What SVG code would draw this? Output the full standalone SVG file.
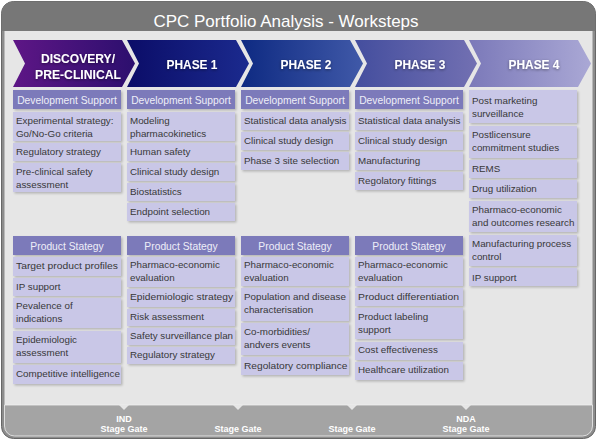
<svg xmlns="http://www.w3.org/2000/svg" width="605" height="442" viewBox="0 0 605 442">
<defs>
<linearGradient id="g0" x1="0" y1="0" x2="1" y2="0"><stop offset="0" stop-color="#5e1686"/><stop offset="1" stop-color="#2c0f6e"/></linearGradient>
<linearGradient id="g1" x1="0" y1="0" x2="1" y2="0"><stop offset="0" stop-color="#0b0d68"/><stop offset="1" stop-color="#1b2a8e"/></linearGradient>
<linearGradient id="g2" x1="0" y1="0" x2="1" y2="0"><stop offset="0" stop-color="#0e2a82"/><stop offset="1" stop-color="#4059a8"/></linearGradient>
<linearGradient id="g3" x1="0" y1="0" x2="1" y2="0"><stop offset="0" stop-color="#444e9e"/><stop offset="1" stop-color="#7270b2"/></linearGradient>
<linearGradient id="g4" x1="0" y1="0" x2="1" y2="0"><stop offset="0" stop-color="#7b79b9"/><stop offset="1" stop-color="#aaa8d5"/></linearGradient>
<filter id="sh" x="-10%" y="-20%" width="125%" height="160%"><feDropShadow dx="1.5" dy="1.5" stdDeviation="1.2" flood-color="#000" flood-opacity="0.22"/></filter>
<filter id="ts" x="-20%" y="-50%" width="140%" height="200%"><feDropShadow dx="0" dy="1" stdDeviation="1.5" flood-color="#000" flood-opacity="0.45"/></filter>
<style>
.it{fill:#c9c7e7;filter:url(#sh)}
.hd{fill:#7c7aba;filter:url(#sh)}
.t{font-family:"Liberation Sans",Arial,sans-serif;font-size:9.8px;fill:#383838}
.ht{font-family:"Liberation Sans",Arial,sans-serif;font-size:10.3px;fill:#eeeef8;text-anchor:middle}
.ph{font-family:"Liberation Sans",Arial,sans-serif;font-size:13px;font-weight:bold;fill:#ffffff;text-anchor:middle;filter:url(#ts)}
.gt{font-family:"Liberation Sans",Arial,sans-serif;font-size:9px;font-weight:bold;fill:#ffffff;text-anchor:middle}
</style>
</defs>

<g id="frame">
<rect x="1.5" y="1.5" width="594" height="437" rx="12" fill="#8c8c8c" stroke="#676767" stroke-width="1"/>
<path d="M1.5,31 V13.5 A12,12 0 0 1 13.5,1.5 H583.5 A12,12 0 0 1 595.5,13.5 V31 Z" fill="#777777"/>
<rect x="4.5" y="31" width="588" height="374" fill="#e6e6e6"/>
<path d="M4.5,405 H592.5 V426 A10,10 0 0 1 582.5,436 H14.5 A10,10 0 0 1 4.5,426 Z" fill="#a4a4a4" stroke="#f0f0f0" stroke-width="0.8"/>
<text x="286" y="27" font-family="'Liberation Sans',Arial,sans-serif" font-size="17" fill="#ffffff" text-anchor="middle">CPC Portfolio Analysis - Worksteps</text>
</g>

<g id="gates">
<path d="M119,405 L124,410 L129,405 Z" fill="#e6e6e6"/>
<path d="M233,405 L238,410 L243,405 Z" fill="#e6e6e6"/>
<path d="M347,405 L352,410 L357,405 Z" fill="#e6e6e6"/>
<path d="M461,405 L466,410 L471,405 Z" fill="#e6e6e6"/>
<text class="gt" x="124" y="422">IND</text><text class="gt" x="124" y="432">Stage Gate</text>
<text class="gt" x="238" y="432">Stage Gate</text>
<text class="gt" x="352" y="432">Stage Gate</text>
<text class="gt" x="466" y="422">NDA</text><text class="gt" x="466" y="432">Stage Gate</text>
</g>

<g id="phases">
<g id="phase-discovery">
<path d="M13,40 H122 L135,63.5 L122,87 H13 L25,63.5 Z" fill="url(#g0)"/>
<text class="ph" x="78" y="62.5" textLength="74" lengthAdjust="spacingAndGlyphs">DISCOVERY/</text>
<text class="ph" x="78" y="78.5" textLength="86" lengthAdjust="spacingAndGlyphs">PRE-CLINICAL</text>
</g>
<g id="phase-1">
<path d="M127,40 H236 L249,63.5 L236,87 H127 L139,63.5 Z" fill="url(#g1)"/>
<text class="ph" x="192" y="69" textLength="51" lengthAdjust="spacingAndGlyphs">PHASE 1</text>
</g>
<g id="phase-2">
<path d="M241,40 H350 L363,63.5 L350,87 H241 L253,63.5 Z" fill="url(#g2)"/>
<text class="ph" x="306" y="69" textLength="51" lengthAdjust="spacingAndGlyphs">PHASE 2</text>
</g>
<g id="phase-3">
<path d="M355,40 H464 L477,63.5 L464,87 H355 L367,63.5 Z" fill="url(#g3)"/>
<text class="ph" x="420" y="69" textLength="51" lengthAdjust="spacingAndGlyphs">PHASE 3</text>
</g>
<g id="phase-4">
<path d="M469,40 H578 L591,63.5 L578,87 H469 L481,63.5 Z" fill="url(#g4)"/>
<text class="ph" x="534" y="69" textLength="51" lengthAdjust="spacingAndGlyphs">PHASE 4</text>
</g>
</g>

<g id="col-discovery">
<g id="d-ds"><rect class="hd" x="13" y="90" width="108" height="19"/><text class="ht" x="67" y="103.5">Development Support</text></g>
<g id="d-1"><rect class="it" x="13" y="112" width="108" height="29"/><text class="t" x="16" y="124">Experimental strategy:</text><text class="t" x="16" y="137">Go/No-Go criteria</text></g>
<g id="d-2"><rect class="it" x="13" y="143" width="108" height="18"/><text class="t" x="16" y="155">Regulatory strategy</text></g>
<g id="d-3"><rect class="it" x="13" y="163" width="108" height="29"/><text class="t" x="16" y="175">Pre-clinical safety</text><text class="t" x="16" y="188">assessment</text></g>
<g id="d-ps"><rect class="hd" x="13" y="236" width="108" height="19"/><text class="ht" x="67" y="249.5">Product Stategy</text></g>
<g id="d-4"><rect class="it" x="13" y="257" width="108" height="19"/><text class="t" x="16" y="269" textLength="102" lengthAdjust="spacingAndGlyphs">Target product profiles</text></g>
<g id="d-5"><rect class="it" x="13" y="278" width="108" height="18"/><text class="t" x="16" y="290">IP support</text></g>
<g id="d-6"><rect class="it" x="13" y="298" width="108" height="30"/><text class="t" x="16" y="309">Pevalence of</text><text class="t" x="16" y="322">indications</text></g>
<g id="d-7"><rect class="it" x="13" y="331" width="108" height="32"/><text class="t" x="16" y="343">Epidemiologic</text><text class="t" x="16" y="356">assessment</text></g>
<g id="d-8"><rect class="it" x="13" y="365" width="108" height="19"/><text class="t" x="16" y="377" textLength="104" lengthAdjust="spacingAndGlyphs">Competitive intelligence</text></g>
</g>

<g id="col-phase1">
<g id="p1-ds"><rect class="hd" x="127" y="90" width="108" height="19"/><text class="ht" x="181" y="103.5">Development Support</text></g>
<g id="p1-1"><rect class="it" x="127" y="112" width="108" height="29"/><text class="t" x="130" y="124">Modeling</text><text class="t" x="130" y="137">pharmacokinetics</text></g>
<g id="p1-2"><rect class="it" x="127" y="143" width="108" height="18"/><text class="t" x="130" y="155">Human safety</text></g>
<g id="p1-3"><rect class="it" x="127" y="163" width="108" height="18"/><text class="t" x="130" y="175">Clinical study design</text></g>
<g id="p1-4"><rect class="it" x="127" y="183" width="108" height="18"/><text class="t" x="130" y="195">Biostatistics</text></g>
<g id="p1-5"><rect class="it" x="127" y="203" width="108" height="18"/><text class="t" x="130" y="215">Endpoint selection</text></g>
<g id="p1-ps"><rect class="hd" x="127" y="236" width="108" height="19"/><text class="ht" x="181" y="249.5">Product Stategy</text></g>
<g id="p1-6"><rect class="it" x="127" y="257" width="108" height="30"/><text class="t" x="130" y="268">Pharmaco-economic</text><text class="t" x="130" y="281">evaluation</text></g>
<g id="p1-7"><rect class="it" x="127" y="289" width="108" height="18"/><text class="t" x="130" y="300" textLength="103" lengthAdjust="spacingAndGlyphs">Epidemiologic strategy</text></g>
<g id="p1-8"><rect class="it" x="127" y="309" width="108" height="17"/><text class="t" x="130" y="319.5">Risk assessment</text></g>
<g id="p1-9"><rect class="it" x="127" y="328" width="108" height="17"/><text class="t" x="130" y="338.5" textLength="103" lengthAdjust="spacingAndGlyphs">Safety surveillance plan</text></g>
<g id="p1-10"><rect class="it" x="127" y="347" width="108" height="17"/><text class="t" x="130" y="358">Regulatory strategy</text></g>
</g>

<g id="col-phase2">
<g id="p2-ds"><rect class="hd" x="241" y="90" width="108" height="19"/><text class="ht" x="295" y="103.5">Development Support</text></g>
<g id="p2-1"><rect class="it" x="241" y="112" width="108" height="18"/><text class="t" x="244" y="124" textLength="102.5" lengthAdjust="spacingAndGlyphs">Statistical data analysis</text></g>
<g id="p2-2"><rect class="it" x="241" y="132" width="108" height="18"/><text class="t" x="244" y="144">Clinical study design</text></g>
<g id="p2-3"><rect class="it" x="241" y="152" width="108" height="18"/><text class="t" x="244" y="163.5">Phase 3 site selection</text></g>
<g id="p2-ps"><rect class="hd" x="241" y="236" width="108" height="19"/><text class="ht" x="295" y="249.5">Product Stategy</text></g>
<g id="p2-4"><rect class="it" x="241" y="257" width="108" height="29"/><text class="t" x="244" y="268">Pharmaco-economic</text><text class="t" x="244" y="281">evaluation</text></g>
<g id="p2-5"><rect class="it" x="241" y="288" width="108" height="33"/><text class="t" x="244" y="300">Population and disease</text><text class="t" x="244" y="313">characterisation</text></g>
<g id="p2-6"><rect class="it" x="241" y="323" width="108" height="32"/><text class="t" x="244" y="335">Co-morbidities/</text><text class="t" x="244" y="348">andvers events</text></g>
<g id="p2-7"><rect class="it" x="241" y="357" width="108" height="18"/><text class="t" x="244" y="369" textLength="103.5" lengthAdjust="spacingAndGlyphs">Regolatory compliance</text></g>
</g>

<g id="col-phase3">
<g id="p3-ds"><rect class="hd" x="355" y="90" width="108" height="19"/><text class="ht" x="409" y="103.5">Development Support</text></g>
<g id="p3-1"><rect class="it" x="355" y="112" width="108" height="18"/><text class="t" x="358" y="124" textLength="102.5" lengthAdjust="spacingAndGlyphs">Statistical data analysis</text></g>
<g id="p3-2"><rect class="it" x="355" y="132" width="108" height="18"/><text class="t" x="358" y="144">Clinical study design</text></g>
<g id="p3-3"><rect class="it" x="355" y="152" width="108" height="18"/><text class="t" x="358" y="163.5">Manufacturing</text></g>
<g id="p3-4"><rect class="it" x="355" y="172" width="108" height="18"/><text class="t" x="358" y="184">Regolatory fittings</text></g>
<g id="p3-ps"><rect class="hd" x="355" y="236" width="108" height="19"/><text class="ht" x="409" y="249.5">Product Stategy</text></g>
<g id="p3-5"><rect class="it" x="355" y="257" width="108" height="29"/><text class="t" x="358" y="268">Pharmaco-economic</text><text class="t" x="358" y="281">evaluation</text></g>
<g id="p3-6"><rect class="it" x="355" y="288" width="108" height="18"/><text class="t" x="358" y="300" textLength="101" lengthAdjust="spacingAndGlyphs">Product differentiation</text></g>
<g id="p3-7"><rect class="it" x="355" y="308" width="108" height="31"/><text class="t" x="358" y="320">Product labeling</text><text class="t" x="358" y="333">support</text></g>
<g id="p3-8"><rect class="it" x="355" y="342" width="108" height="18"/><text class="t" x="358" y="353">Cost effectiveness</text></g>
<g id="p3-9"><rect class="it" x="355" y="362" width="108" height="18"/><text class="t" x="358" y="373">Healthcare utilization</text></g>
</g>

<g id="col-phase4">
<g id="p4-1"><rect class="it" x="469" y="90" width="108" height="33"/><text class="t" x="472" y="103.5">Post marketing</text><text class="t" x="472" y="116.5">surveillance</text></g>
<g id="p4-2"><rect class="it" x="469" y="126" width="108" height="32"/><text class="t" x="472" y="137.5">Postlicensure</text><text class="t" x="472" y="150.5">commitment studies</text></g>
<g id="p4-3"><rect class="it" x="469" y="160" width="108" height="18"/><text class="t" x="472" y="171.5">REMS</text></g>
<g id="p4-4"><rect class="it" x="469" y="180" width="108" height="18"/><text class="t" x="472" y="191.5">Drug utilization</text></g>
<g id="p4-5"><rect class="it" x="469" y="201" width="108" height="31"/><text class="t" x="472" y="212.5">Pharmaco-economic</text><text class="t" x="472" y="225.5">and outcomes research</text></g>
<g id="p4-6"><rect class="it" x="469" y="235" width="108" height="31"/><text class="t" x="472" y="246.5">Manufacturing process</text><text class="t" x="472" y="259.5">control</text></g>
<g id="p4-7"><rect class="it" x="469" y="268" width="108" height="18"/><text class="t" x="472" y="280.5">IP support</text></g>
</g>

<g id="connectors"></g>
</svg>
